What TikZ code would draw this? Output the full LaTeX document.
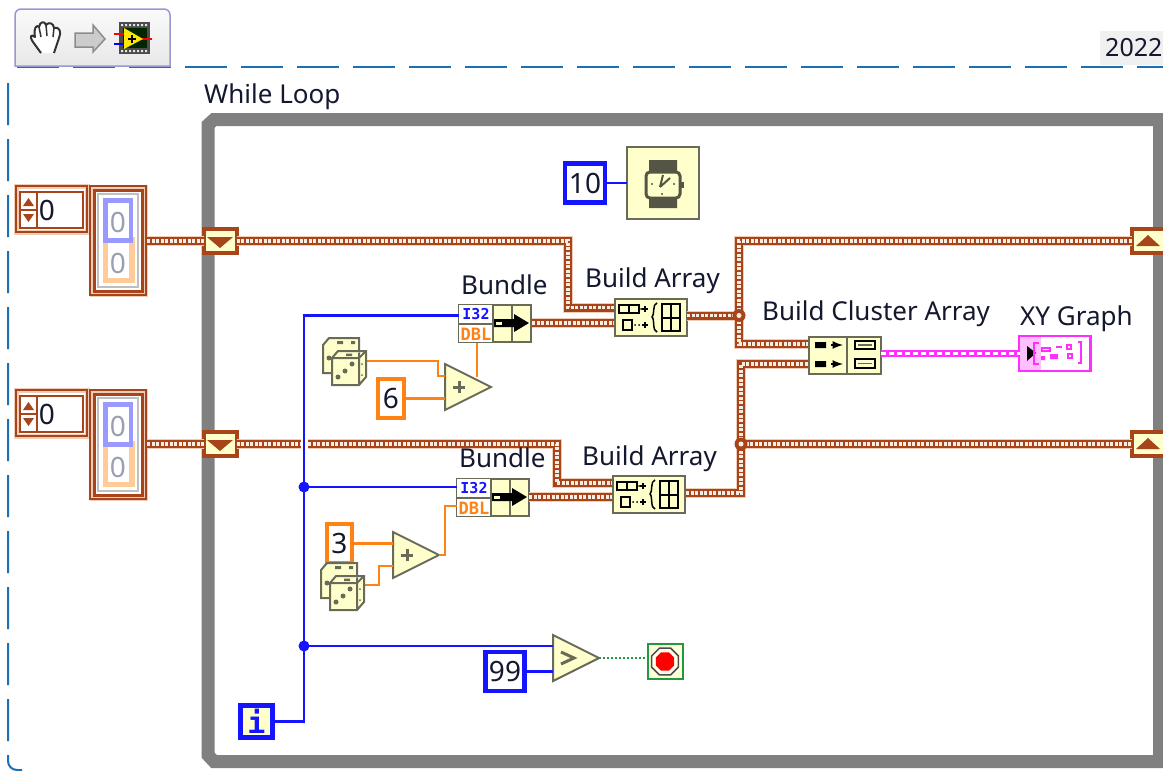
\documentclass[tikz,border=0pt]{standalone}
\usepackage{fontspec}
\setmainfont{Noto Sans}
\setmonofont{DejaVu Sans Mono}
\usetikzlibrary{shapes.geometric}
\definecolor{lvbrown}{HTML}{A8441A}
\definecolor{lvhalo}{HTML}{EFCDB8}
\definecolor{lvpale}{HTML}{F8EDE2}
\definecolor{lvyellow}{HTML}{FFFFCC}
\definecolor{lvedge}{HTML}{6A6A58}
\definecolor{lvblue}{HTML}{1414FF}
\definecolor{lvorange}{HTML}{FF8214}
\definecolor{lvpink}{HTML}{FF2EFF}
\definecolor{lvgreen}{HTML}{1F9A3C}
\definecolor{lvtext}{HTML}{14182E}
\definecolor{lvdash}{HTML}{1B6FB5}
\definecolor{lvgrey}{HTML}{9AA0B4}
\tikzset{
  label text/.style={anchor=west,inner sep=0pt,text=lvtext,font=\fontsize{26}{30}\selectfont},
  digit/.style={inner sep=0pt,text=lvtext,font=\fontsize{28}{32}\selectfont},
  pale digit/.style={inner sep=0pt,text=lvgrey,font=\fontsize{28}{32}\selectfont},
  clusterwire/.style={line join=miter,draw=lvbrown,line width=8pt,
    preaction={draw=lvhalo,line width=10pt},
    postaction={draw=lvpale,line width=3.5pt,dash pattern=on 3pt off 1.5pt}},
  graphwire/.style={draw=lvpink,line width=7pt,
    postaction={draw=white,line width=2.5pt,dash pattern=on 5pt off 3pt}},
  bluewire/.style={draw=lvblue,line width=2.5pt,line join=miter},
  orangewire/.style={draw=lvorange,line width=2.5pt,line join=miter},
  boolwire/.style={draw=lvgreen,line width=2.5pt,dash pattern=on 2pt off 2pt},
  funcbox/.style={draw=lvedge,fill=lvyellow,line width=2pt,inner sep=0pt,outer sep=0pt,
    minimum width=72pt,minimum height=37pt},
  blueconst/.style={draw=lvblue,fill=white,line width=4.5pt,inner sep=0pt,outer sep=0pt,
    text=lvtext,font=\fontsize{28}{32}\selectfont},
  orangeconst/.style={draw=lvorange,fill=white,line width=4.5pt,inner sep=0pt,outer sep=0pt,
    text=lvtext,font=\fontsize{28}{32}\selectfont},
  shiftreg/.style={draw=lvbrown,fill=lvyellow,line width=4pt,inner sep=0pt,outer sep=0pt,
    minimum width=33pt,minimum height=24pt},
  addtri/.style={shape=isosceles triangle,isosceles triangle stretches=true,
    draw=lvedge,fill=lvyellow,line width=2pt,inner sep=0pt,outer sep=0pt,
    minimum width=46pt,minimum height=46pt,anchor=lower side},
  tridown/.pic={\fill[lvbrown] (-13,-4) -- (13,-4) -- (0,7) -- cycle;},
  triup/.pic={\fill[lvbrown] (-12,5) -- (12,5) -- (0,-6) -- cycle;},
  % spinner plus array control, drawn from its top left corner
  arrayctl/.pic={
    \draw[lvhalo,line width=5pt] (1,1) rectangle (72,47);
    \draw[lvbrown,line width=2pt] (1,1) rectangle (72,47);
    \draw[lvbrown,line width=2pt,fill=white] (5,7) rectangle (68,43);
    \draw[lvbrown,line width=2pt] (22,7) -- (22,43);
    \draw[lvbrown,line width=1.5pt] (6,25) -- (21,25);
    \fill[lvbrown] (8,21) -- (19,21) -- (13.5,13) -- cycle;
    \fill[lvbrown] (8,29) -- (19,29) -- (13.5,37) -- cycle;
    \node[digit] (val) at (32,25) {0};
    \draw[lvhalo,line width=5pt] (77,2) rectangle (130,109);
    \draw[lvbrown,line width=1.5pt] (75,1) rectangle (131,110);
    \draw[lvbrown,line width=3pt] (79,5) rectangle (127,106);
    \draw[black!25,line width=1.5pt,fill=white] (83,9) rectangle (123,102);
    \fill[orange!40] (88,52) rectangle (120,98);
    \fill[white] (93,52) rectangle (114,93);
    \fill[blue!40] (88,13) rectangle (118,58);
    \fill[white] (93,18) rectangle (114,53);
    \node[pale digit] (top) at (103,37) {0};
    \node[pale digit] (low) at (103,78) {0};
  },
  % two dice, origin is top left of the die in front
  dicepair/.pic={
    \begin{scope}[shift={(-9,-13)}]
      \draw[lvedge,line width=2pt,fill=lvyellow] (0,7) -- (6,0) -- (36,0) -- (36,24) -- (28,35) -- (0,35) -- cycle;
      \fill[lvedge] (6,20) circle (2.5pt) (28,3) rectangle (32,6) (14,3) rectangle (20,6);
    \end{scope}
    \draw[lvedge,line width=2pt,fill=lvyellow] (0,7) -- (6,0) -- (34,0) -- (34,26) -- (27,34) -- (0,34) -- (0,7) -- (27,7) -- (34,0) (27,7) -- (27,34);
    \fill[lvedge] (6,26) circle (2.5pt) (13,20) circle (2.5pt) (20,13) circle (2.5pt)
      (14,2.5) rectangle (20,5) (30,13) circle (1pt) (30,24) circle (1pt);
  },
  % cluster bundling icon
  bundleicon/.pic={
    \fill[white] (1,1) rectangle (35,38);
    \draw[lvedge,line width=1.5pt] (35,0) -- (35,39) (54,0) -- (54,39) (0,20) -- (35,20);
    \node[inner sep=0pt,text=lvblue,font=\ttfamily\bfseries\fontsize{15}{15}\selectfont] (tagi) at (18,10.5) {I32};
    \node[inner sep=0pt,text=lvorange,font=\ttfamily\bfseries\fontsize{17}{17}\selectfont] (tagd) at (18,30) {DBL};
    \fill[black] (36,15) -- (56,15) -- (56,10) -- (71,19) -- (56,28) -- (56,23) -- (36,23) -- cycle;
    \fill[lvyellow] (38,17.5) rectangle (44,20.5);
  },
  arrayicon/.pic={
    \draw[black,line width=2pt] (5,7) rectangle (25,15) (15,7) -- (15,15);
    \fill[black] (27,11) circle (1pt);
    \draw[black,line width=2pt] (28,11) -- (34,11) (31,8) -- (31,14);
    \draw[black,line width=2pt] (9,22) rectangle (18,32);
    \fill[black] (21,27) circle (1pt) (25,27) circle (1pt);
    \draw[black,line width=2pt] (28,27) -- (34,27) (31,24) -- (31,30);
    \draw[black,line width=1.5pt] (43,5) .. controls (38,6) and (41,17) .. (38,19) .. controls (41,21) and (38,33) .. (43,34);
    \draw[black,line width=2pt] (48,6) rectangle (66,33);
    \draw[black,line width=2pt] (57,6) -- (57,33);
    \draw[black,line width=2pt] (48,20) -- (66,20);
  },
  clustericon/.pic={
    \draw[lvedge,line width=2pt] (39,0) -- (39,38);
    \fill[black] (7,6) rectangle (18,12) (7,25) rectangle (18,31);
    \draw[black,line width=2.5pt,-latex] (23,9) -- (35,9);
    \draw[black,line width=2.5pt,-latex] (23,28) -- (35,28);
    \draw[black,line width=2pt] (47,5) rectangle (67,13) (47,23) rectangle (67,32);
    \draw[lvedge,line width=1.5pt] (50,9) -- (64,9) (50,27.5) -- (64,27.5);
  }
}
\begin{document}
\begin{tikzpicture}[x=1pt,y=-1pt]
        \useasboundingbox (0,0) rectangle (1163,771);
        \fill[white] (0,0) rectangle (1163,771);

        % sheet border and tab
        \fill[black!6] (1100,31) rectangle (1163,65);
        \node[label text,font=\fontsize{25}{30}\selectfont] (yeartab) at (1105,48) {2022};
        \draw[lvdash,line width=2pt,dash pattern=on 42pt off 14pt] (17,67) -- (1163,67);
        \draw[lvdash,line width=2pt,dash pattern=on 42pt off 14pt,rounded corners=9pt] (8,83) -- (8,770) -- (22,770);

        % toolbar button
        \draw[black!45!blue!40!white,line width=1.5pt,top color=black!2,bottom color=black!9] (15,66) [rounded corners=6pt] -- (15,9) -- (170,9) [sharp corners] -- (170,66) -- cycle;
        \draw[black!80,line width=2pt,fill=white,line join=round] (41,53) -- (33,42) .. controls (29,36) and (31,34) .. (35,37) .. controls (33,28) and (37,24) .. (39,27) .. controls (40,21) and (45,21) .. (46,25) .. controls (49,21) and (54,24) .. (54,28) .. controls (59,26) and (62,32) .. (59,38) -- (54,53);
        \draw[black!80,line width=1.5pt] (39,27) -- (41,37) (46,25) -- (47,36) (54,28) -- (53,37);
        \draw[black!45,line width=1.5pt,fill=black!20] (75,33) -- (93,33) -- (93,25) -- (105,39) -- (93,52) -- (93,47) -- (75,47) -- cycle;
        \fill[black!70] (119,22) rectangle (150,54);
        \foreach \i in {121,125,...,147} {
          \fill[black!10] (\i,24) rectangle (\i+2,26) (\i,50) rectangle (\i+2,52);
        }
        \fill[black!85!green] (123,28) rectangle (147,48);
        \draw[red,line width=1.5pt] (114,34) -- (124,34) (142,39) -- (152,39);
        \draw[blue,line width=1.5pt] (114,44) -- (124,44);
        \fill[yellow!90!orange] (124,28) -- (124,49) -- (143,39) -- cycle;
        \draw[black,line width=1.2pt] (128,39) -- (136,39) (132,35) -- (132,43);

        % while loop frame
        \draw[black!50,line width=13pt,line join=miter] (1175,119.5) -- (214,119.5) -- (208,125) -- (208,755) -- (214,761.5) -- (1175,761.5);
        \draw[black!50,line width=13pt] (1159.5,119.5) -- (1159.5,761.5);
        \node[label text] (looplabel) at (204,97) {While Loop};

        % control points of the wires
        \coordinate (bendA) at (568,270);
        \coordinate (inA) at (614,307.5);
        \coordinate (inB) at (614,323);
        \coordinate (outA) at (532,323);
        \coordinate (joinA) at (739,315.5);
        \coordinate (upA) at (739,241);
        \coordinate (inC) at (808,344);
        \coordinate (inD) at (808,364);
        \coordinate (joinB) at (741,444);
        \coordinate (gapL) at (301,444);
        \coordinate (gapR) at (308,444);
        \coordinate (bendB) at (557,465);
        \coordinate (inE) at (612,483);
        \coordinate (inF) at (612,497);
        \coordinate (outB) at (529,497);
        \coordinate (outC) at (686,493);
        \coordinate (dotA) at (304,487);
        \coordinate (dotB) at (304,646);
        \coordinate (turnI) at (304,723);
        \coordinate (portI) at (459,315.5);

        % nodes
        \pic (ctlA) at (15,185) {arrayctl};
        \pic (ctlB) at (15,389) {arrayctl};
        \coordinate (ctlAout) at (147,241);
        \coordinate (ctlBout) at (147,444);

        \node[shiftreg] (regAin) at (220,241) {};
        \node[shiftreg] (regBin) at (220,444) {};
        \node[shiftreg] (regAout) at (1148,241) {};
        \node[shiftreg] (regBout) at (1148,444) {};

        \node[funcbox,anchor=north west] (bunA) at (459,305) {};
        \node[funcbox,anchor=north west] (bunB) at (457,479) {};
        \node[funcbox,anchor=north west] (arrA) at (615,299) {};
        \node[funcbox,anchor=north west] (arrB) at (613,476) {};
        \node[funcbox,anchor=north west] (clu) at (809,337) {};
        \node[funcbox,anchor=north west,minimum height=72pt] (wait) at (627,147) {};

        \node[blueconst,minimum width=40pt,minimum height=39pt] (tenms) at (585,183) {10};
        \node[blueconst,minimum width=39pt,minimum height=39pt] (limit) at (505,671.5) {99};
        \node[blueconst,fill=lvyellow,minimum width=32pt,minimum height=32pt,font=\ttfamily\bfseries\fontsize{30}{30}\selectfont,text=lvblue] (iter) at (256.5,721.5) {i};
        \node[orangeconst,minimum width=26pt,minimum height=39pt] (six) at (391,398.5) {6};
        \node[orangeconst,minimum width=25pt,minimum height=39pt] (three) at (339.5,543.5) {3};

        \node[addtri] (addA) at (445,387) {};
        \node[addtri] (addB) at (393,555) {};
        \node[addtri] (cmp) at (553,658) {};
        \draw[lvedge,line width=3pt] (453,387) -- (465,387) (459,381) -- (459,393); % plus
        \draw[lvedge,line width=3pt] (401,555) -- (413,555) (407,549) -- (407,561); % plus
        \draw[lvedge,line width=3pt] (561,652) -- (574,658) -- (561,664); % greater
        \coordinate (addAa) at (445,376);
        \coordinate (addAb) at (445,398.5);
        \coordinate (addAup) at (477,377);
        \coordinate (addAport) at (477,343);
        \coordinate (addBa) at (393,543.5);
        \coordinate (addBb) at (393,566);
        \coordinate (addBturn) at (445,530);
        \coordinate (addBport) at (457,506);
        \coordinate (cmpa) at (553,646);
        \coordinate (cmpb) at (553,671.5);
        \coordinate (diceAout) at (366,361);
        \coordinate (diceAturn) at (438,370);
        \coordinate (diceBout) at (364,585);
        \coordinate (diceBturn) at (379,575);

        \node[draw=lvgreen,fill=lvyellow!70!white,line width=2pt,inner sep=0pt,outer sep=0pt,minimum width=35pt,minimum height=35pt] (stopbox) at (665,661.5) {};
        \node[draw=lvpink,fill=white,line width=2.5pt,inner sep=0pt,outer sep=0pt,minimum width=71pt,minimum height=35pt] (graph) at (1055,353.5) {};

        % wires
        \draw[clusterwire] (ctlAout) -- (regAin.west);
        \draw[clusterwire] (ctlBout) -- (regBin.west);
        \draw[clusterwire] (regAin.east) -| (bendA) |- (inA);
        \draw[clusterwire] (outA) -- (inB);
        \draw[clusterwire] (regBin.east) -- (gapL);
        \draw[clusterwire] (gapR) -| (bendB) |- (inE);
        \draw[clusterwire] (outB) -- (inF);
        \draw[clusterwire] (arrA.east |- joinA) -- (joinA);
        \draw[clusterwire] (regAout.west) -- (upA) -- (joinA) |- (inC);
        \draw[clusterwire] (outC) -- (outC -| joinB) -- (joinB) |- (inD);
        \draw[clusterwire] (joinB) -- (regBout.west);
        \draw[graphwire] (clu.east |- graph.west) -- (graph.west);
        \fill[lvbrown] (joinA) circle (6.5pt) (joinB) circle (6.5pt);
        \fill[lvpale] (joinA) circle (2.5pt) (joinB) circle (2.5pt);

        \draw[bluewire] (iter.east) -| (turnI) -- (dotB) -- (dotA) |- (portI);
        \draw[bluewire] (dotA) -- (bunB.west |- dotA);
        \draw[bluewire] (dotB) -- (cmpa);
        \draw[bluewire] (limit.east) -- (cmpb);
        \draw[bluewire] (tenms.east) -- (wait.west);
        \fill[lvblue] (dotA) circle (5.5pt) (dotB) circle (5.5pt);

        \draw[orangewire] (diceAout) -| (diceAturn) |- (addAa);
        \draw[orangewire] (six.east) -- (addAb);
        \draw[orangewire] (addAup) -- (addAport);
        \draw[orangewire] (three.east) -- (addBa);
        \draw[orangewire] (diceBout) -| (diceBturn) |- (addBb);
        \draw[orangewire] (addB.apex) -| (addBturn) |- (addBport);
        \draw[boolwire] (cmp.apex) -- (stopbox.west |- cmp.apex);

        % icons on top of the nodes
        \pic at (regAin.center) {tridown};
        \pic at (regBin.center) {tridown};
        \pic at (regAout.center) {triup};
        \pic at (regBout.center) {triup};
        \pic (bicoA) at (458,304) {bundleicon};
        \pic (bicoB) at (456,478) {bundleicon};
        \pic at (614,298) {arrayicon};
        \pic at (612,475) {arrayicon};
        \pic at (808,336) {clustericon};
        \pic at (332,351) {dicepair};
        \pic at (330,576) {dicepair};

        % watch face
        \fill[lvedge!80!black] (649,160) rectangle (677,172) (649,198) rectangle (677,208);
        \draw[lvedge!80!black,line width=3pt,rounded corners=4pt,fill=lvyellow] (646,172) rectangle (680,198);
        \fill[lvedge!80!black] (681,182) rectangle (684,188);
        \draw[lvedge!80!black,line width=2pt] (660,187) -- (663,175) (660,187) -- (670,178);
        \fill[lvedge!80!black] (652,184) circle (1.2pt) (674,184) circle (1.2pt) (662,194) circle (1.2pt);

        % stop terminal
        \node[regular polygon,regular polygon sides=8,draw=black!70,fill=lvyellow!40!white,line width=1.5pt,inner sep=0pt,minimum size=29pt] (stopring) at (665,661.5) {};
        \node[regular polygon,regular polygon sides=8,fill=red,inner sep=0pt,minimum size=20pt] (stopdot) at (665,661.5) {};

        % graph terminal
        \fill[lvpink!30] (1020,337) rectangle (1041,370);
        \fill[black] (1027,346) -- (1036,353) -- (1027,361) -- cycle;
        \draw[lvpink,line width=1.5pt] (1039,343) -- (1034,343) -- (1034,364) -- (1039,364);
        \draw[lvpink,line width=1.5pt] (1078,342) -- (1081,342) -- (1081,363) -- (1078,363);
        \draw[lvpink,line width=1.5pt] (1042,348) rectangle (1050,351) (1056,347) -- (1062,347) (1067,345) rectangle (1071,349) (1068,354) rectangle (1072,358);
        \fill[lvpink] (1050,354) rectangle (1058,359) (1041,356) rectangle (1045,360);

        % labels
        \node[label text] (labBunA) at (461,285) {Bundle};
        \node[label text] (labBunB) at (459,458) {Bundle};
        \node[label text] (labArrA) at (585,281) {Build Array};
        \node[label text] (labArrB) at (582,459) {Build Array};
        \node[label text] (labClu) at (762,314) {Build Cluster Array};
        \node[label text] (labGraph) at (1020,319) {XY Graph};

        \end{tikzpicture}
\end{document}
